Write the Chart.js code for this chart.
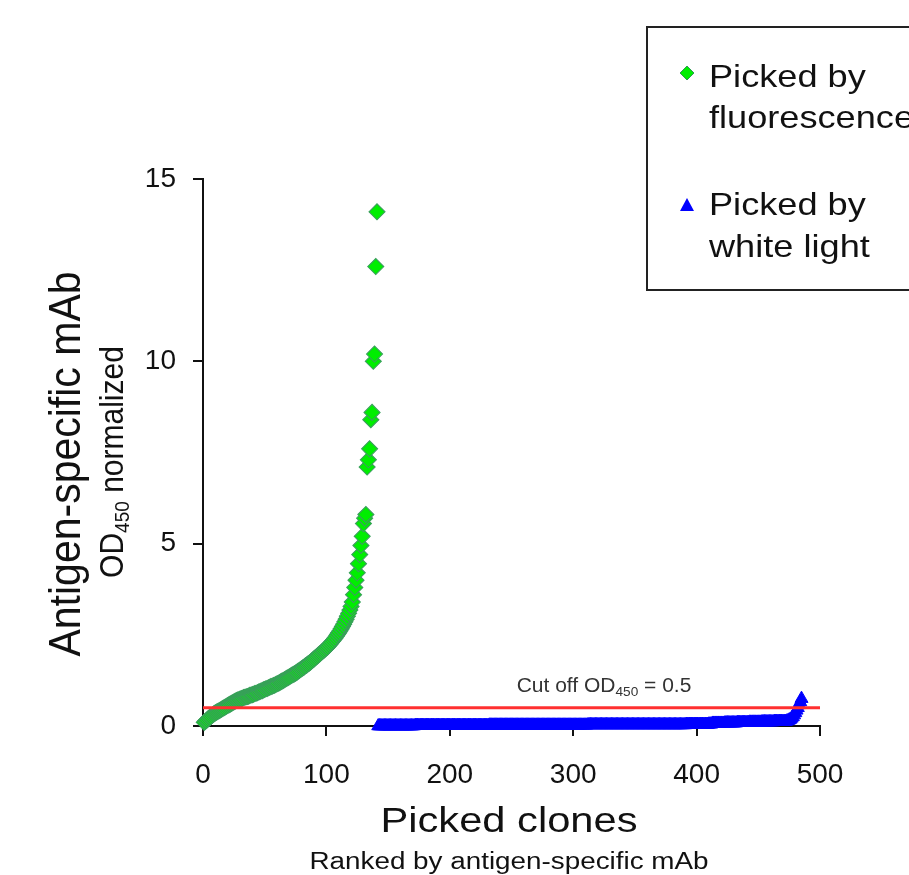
<!DOCTYPE html>
<html>
<head>
<meta charset="utf-8">
<title>Picked clones ranked by antigen-specific mAb</title>
<script src="https://cdn.jsdelivr.net/npm/chart.js@4.4.0/dist/chart.umd.min.js"></script>
<style>
  html, body { margin: 0; padding: 0; background: #fff; }
  #wrap { width: 909px; height: 875px; position: relative; }
</style>
</head>
<body>
<div id="wrap"><canvas id="chart" width="909" height="875"></canvas></div>
<script>
// --- data ---
// OD450 normalized, ranked; green = picked by fluorescence (ranks 1..141)
const greenOD = [
  0.10,0.13,0.16,0.19,0.22,0.25,0.28,0.31,0.34,0.36,
  0.38,0.40,0.42,0.44,0.46,0.48,0.50,0.52,0.54,0.56,
  0.58,0.60,0.62,0.64,0.66,0.68,0.70,0.71,0.72,0.74,
  0.75,0.76,0.78,0.79,0.80,0.81,0.82,0.84,0.85,0.86,
  0.87,0.89,0.90,0.91,0.93,0.94,0.96,0.97,0.99,1.00,
  1.02,1.03,1.05,1.06,1.08,1.09,1.11,1.12,1.14,1.16,
  1.17,1.19,1.21,1.23,1.25,1.27,1.29,1.31,1.33,1.35,
  1.37,1.39,1.41,1.43,1.45,1.47,1.50,1.52,1.55,1.57,
  1.60,1.62,1.65,1.67,1.70,1.72,1.75,1.78,1.81,1.84,
  1.87,1.90,1.93,1.96,1.99,2.02,2.05,2.08,2.11,2.14,
  2.17,2.21,2.25,2.29,2.33,2.37,2.41,2.46,2.51,2.56,
  2.61,2.67,2.73,2.79,2.86,2.93,3.01,3.09,3.18,3.28,
  3.40,3.60,3.80,4.00,4.20,4.45,4.70,4.95,5.20,5.55,
  5.70,5.80,7.10,7.30,7.60,8.40,8.60,10.00,10.20,12.60,
  14.10
];
// blue = picked by white light (ranks 142..485)
const blueOD = [
  0,0,0,0,0,0,0,0,0,0,0,0,0,0,0,0,0,0,0,0,
  0,0,0,0,0,0,0,0,0,0,0.01,0.01,0.01,0.01,0.01,0.01,0.01,0.01,0.01,0.01,
  0.01,0.01,0.01,0.01,0.01,0.01,0.01,0.01,0.01,0.01,0.01,0.01,0.01,0.01,0.01,0.01,0.01,0.01,0.01,0.01,
  0.01,0.01,0.01,0.01,0.01,0.01,0.01,0.01,0.01,0.01,0.01,0.01,0.01,0.01,0.01,0.01,0.01,0.01,0.01,0.01,
  0.01,0.01,0.01,0.01,0.01,0.01,0.01,0.01,0.01,0.01,0.02,0.02,0.02,0.02,0.02,0.02,0.02,0.02,0.02,0.02,
  0.02,0.02,0.02,0.02,0.02,0.02,0.02,0.02,0.02,0.02,0.02,0.02,0.02,0.02,0.02,0.02,0.02,0.02,0.02,0.02,
  0.02,0.02,0.02,0.02,0.02,0.02,0.02,0.02,0.02,0.02,0.02,0.02,0.02,0.02,0.02,0.02,0.02,0.02,0.02,0.02,
  0.02,0.02,0.02,0.02,0.02,0.02,0.02,0.02,0.02,0.02,0.02,0.02,0.02,0.02,0.02,0.02,0.02,0.02,0.02,0.02,
  0.02,0.02,0.02,0.02,0.02,0.02,0.02,0.02,0.02,0.02,0.03,0.03,0.03,0.03,0.03,0.03,0.03,0.03,0.03,0.03,
  0.03,0.03,0.03,0.03,0.03,0.03,0.03,0.03,0.03,0.03,0.03,0.03,0.03,0.03,0.03,0.03,0.03,0.03,0.03,0.03,
  0.03,0.03,0.03,0.03,0.03,0.03,0.03,0.03,0.03,0.03,0.03,0.03,0.03,0.03,0.03,0.03,0.03,0.03,0.03,0.03,
  0.03,0.03,0.03,0.03,0.03,0.03,0.03,0.03,0.03,0.03,0.03,0.03,0.03,0.03,0.03,0.03,0.03,0.03,0.03,0.03,
  0.03,0.03,0.03,0.03,0.03,0.03,0.03,0.03,0.03,0.03,0.04,0.04,0.04,0.04,0.04,0.04,0.04,0.04,0.04,0.04,
  0.04,0.04,0.04,0.04,0.04,0.04,0.04,0.04,0.05,0.05,0.05,
  0.07,0.07,0.07,0.07,0.07,0.07,0.07,0.07,0.07,0.07,0.08,0.08,0.08,0.08,0.08,0.08,0.08,0.08,0.08,0.08,
  0.09,0.09,0.09,0.09,0.09,0.09,0.09,0.09,0.09,0.09,0.10,0.10,0.10,0.10,0.10,0.10,0.10,0.10,0.10,0.10,
  0.11,0.11,0.11,0.11,0.11,0.11,0.11,0.11,0.11,0.11,0.12,0.12,0.12,0.12,0.12,0.12,0.12,0.12,0.12,0.12,
  0.13,0.14,0.16,0.18,0.21,0.25,0.30,0.36,0.43,0.50,0.58,0.66,0.75
];
const greenFirstRank = 1;
const blueFirstRank = 142;
const cutoffOD = 0.5;
const cutoffRange = [0, 500];
const xTickValues = [0, 100, 200, 300, 400, 500];
const yTickValues = [0, 5, 10, 15];
const legendLabels = [['Picked by', 'fluorescence'], ['Picked by', 'white light']];

const FONT = '"Liberation Sans", Arial, Helvetica, sans-serif';
const INK = '#111';

// points in rank order
const greenPts = greenOD.map((v, i) => ({ x: greenFirstRank + i, y: v }));
const bluePts = blueOD.map((v, i) => ({ x: blueFirstRank + i, y: v }));

// text helper: pieces (for subscripts), horizontal stretch, optional rotation
function drawRich(ctx, parts, x, y, o){
  o = o || {};
  ctx.save();
  ctx.translate(x, y);
  ctx.scale(o.sx || 1, 1);
  if (o.rot) ctx.rotate(o.rot);
  ctx.fillStyle = o.color || INK;
  ctx.textBaseline = 'alphabetic';
  ctx.textAlign = 'left';
  let w = 0;
  parts.forEach(p => { ctx.font = p.size + 'px ' + FONT; p.w = ctx.measureText(p.t).width; w += p.w; });
  let cx = o.align === 'left' ? 0 : -w / 2;
  parts.forEach(p => { ctx.font = p.size + 'px ' + FONT; ctx.fillText(p.t, cx, p.dy || 0); cx += p.w; });
  ctx.restore();
}

const decorPlugin = {
  id: 'decor',
  afterDraw(chart){
    const ctx = chart.ctx;
    const ys = chart.scales.y;

    // y-axis titles
    drawRich(ctx, [{ t: 'Antigen-specific mAb', size: 41 }], 80, 464, { sx: 1.1, rot: -Math.PI / 2 });
    drawRich(ctx, [
      { t: 'OD', size: 30 },
      { t: '450', size: 19, dy: 6 },
      { t: ' normalized', size: 30 }
    ], 123, 462, { sx: 1.08, rot: -Math.PI / 2 });

    // x-axis titles
    drawRich(ctx, [{ t: 'Picked clones', size: 35 }], 509, 832, { sx: 1.19 });
    drawRich(ctx, [{ t: 'Ranked by antigen-specific mAb', size: 23 }], 509, 869, { sx: 1.21 });

    // cut-off label above the red line
    const cy = ys.getPixelForValue(cutoffOD);
    drawRich(ctx, [
      { t: 'Cut off OD', size: 20 },
      { t: '450', size: 13, dy: 4 },
      { t: ' = 0.5', size: 20 }
    ], 604, cy - 16, { sx: 1.05, color: '#333' });

    // legend box (runs past the right edge like the original)
    ctx.save();
    ctx.strokeStyle = '#222';
    ctx.lineWidth = 2;
    ctx.strokeRect(647, 27, 320, 263);

    // diamond marker
    ctx.fillStyle = '#00ee00';
    ctx.strokeStyle = '#2f9a55';
    ctx.lineWidth = 1;
    ctx.beginPath();
    ctx.moveTo(687, 66); ctx.lineTo(694, 73); ctx.lineTo(687, 80); ctx.lineTo(680, 73);
    ctx.closePath(); ctx.fill(); ctx.stroke();
    // triangle marker
    ctx.fillStyle = '#0000ff';
    ctx.beginPath();
    ctx.moveTo(687, 198); ctx.lineTo(694, 211); ctx.lineTo(680, 211);
    ctx.closePath(); ctx.fill();
    ctx.restore();

    const baselines = [[87, 128], [215, 257]];
    legendLabels.forEach((lines, i) => {
      lines.forEach((t, j) => drawRich(ctx, [{ t, size: 32 }], 709, baselines[i][j], { sx: 1.13, align: 'left' }));
    });
  }
};

Chart.defaults.font.family = FONT;
Chart.defaults.color = INK;

const axisCommon = {
  type: 'linear',
  grid: { display: true, drawOnChartArea: false, drawTicks: true, tickLength: 10, color: INK, lineWidth: 2 },
  border: { display: true, color: INK, width: 2 }
};

new Chart(document.getElementById('chart').getContext('2d'), {
  type: 'scatter',
  data: {
    datasets: [
      {
        label: 'Cut off', order: 0, showLine: true, clip: false,
        data: cutoffRange.map(x => ({ x, y: cutoffOD })),
        borderColor: '#ff3030', borderWidth: 3, pointRadius: 0
      },
      {
        label: 'Picked by fluorescence', order: 1, clip: false,
        data: greenPts, pointStyle: 'rectRot', pointRadius: 8,
        backgroundColor: '#00ee00', borderColor: '#3a9f5c', borderWidth: 1.1
      },
      {
        label: 'Picked by white light', order: 2, clip: false,
        data: bluePts, pointStyle: 'triangle', pointRadius: 7.5,
        backgroundColor: '#0000ff', borderColor: '#0000ff', borderWidth: 1
      }
    ]
  },
  options: {
    responsive: false,
    animation: false,
    events: [],
    layout: { padding: { top: 179, right: 89, left: 0, bottom: 0 } },
    plugins: { legend: { display: false }, tooltip: { enabled: false } },
    scales: {
      x: Object.assign({}, axisCommon, {
        min: 0, max: 500,
        afterBuildTicks: s => { s.ticks = xTickValues.map(v => ({ value: v })); },
        afterFit: s => { s.height = 875 - 726; },
        ticks: { font: { size: 28 }, color: INK, padding: 22 }
      }),
      y: Object.assign({}, axisCommon, {
        min: 0, max: 15,
        afterBuildTicks: s => { s.ticks = yTickValues.map(v => ({ value: v })); },
        afterFit: s => { s.width = 203; },
        ticks: { font: { size: 28 }, color: INK, padding: 17 }
      })
    }
  },
  plugins: [decorPlugin]
});
</script>
</body>
</html>
